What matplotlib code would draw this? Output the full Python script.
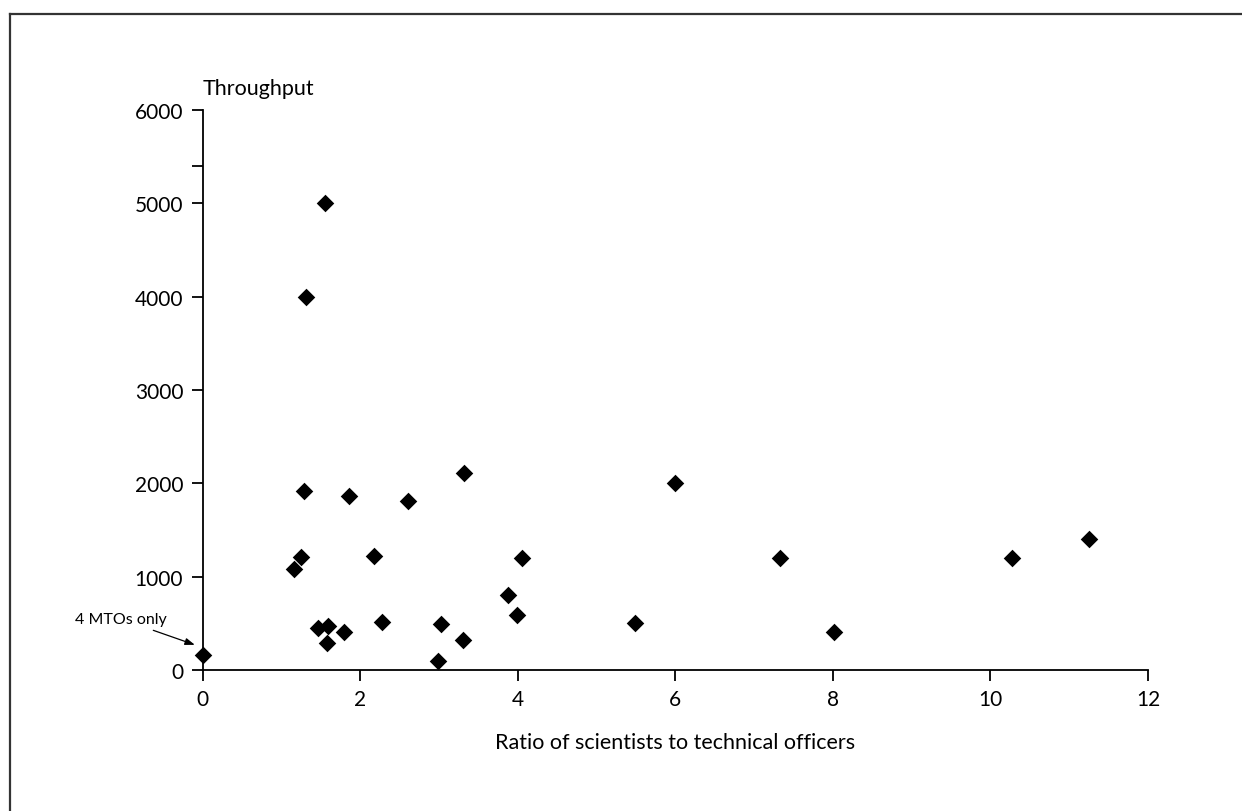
import matplotlib
matplotlib.use("Agg")
import matplotlib.pyplot as plt
from matplotlib.lines import Line2D

plt.rcParams["font.family"] = ["Lato", "DejaVu Sans"]

# ratio of scientists to technical officers vs throughput, one point per lab
ratio = [0, 1.16, 1.25, 1.29, 1.31, 1.55, 1.47, 1.59, 1.58, 1.80,
         1.86, 2.18, 2.27, 2.61, 2.99, 3.03, 3.31, 3.32, 3.88, 3.99,
         4.05, 5.49, 6.0, 7.33, 8.01, 10.28, 11.25]
throughput = [160, 1080, 1215, 1915, 4000, 5000, 455, 475, 295, 410,
              1860, 1220, 510, 1810, 100, 490, 320, 2110, 800, 590,
              1205, 505, 2000, 1200, 405, 1205, 1400]

x_ticks = [0, 2, 4, 6, 8, 10, 12]
y_ticks = [0, 1000, 2000, 3000, 4000, 5000, 6000]
y_extra_tick = 5400

fig = plt.figure(figsize=(12.42, 8.12), dpi=100)
ax = fig.add_axes([0.1632, 0.1736, 0.7611, 0.6897])

ax.scatter(ratio, throughput, marker="D", s=80, color="black",
           linewidths=0, clip_on=False, zorder=3)

ax.set_xlim(0, 12)
ax.set_ylim(0, 6000)
ax.set_xticks(x_ticks)
ax.set_yticks(y_ticks + [y_extra_tick])
ax.set_yticklabels([str(v) for v in y_ticks] + [""])

for side in ["top", "right"]:
    ax.spines[side].set_visible(False)
for side in ["left", "bottom"]:
    ax.spines[side].set_linewidth(1.3)
    ax.spines[side].set_color("black")

ax.tick_params(direction="out", length=8, width=1.3, labelsize=15,
               pad=6, colors="black")

ax.set_xlabel("Ratio of scientists to technical officers",
              fontsize=15.5, labelpad=16)
ax.text(0, 1.022, "Throughput", transform=ax.transAxes,
        ha="left", va="bottom", fontsize=15.5)

ax.annotate("4 MTOs only", xy=(-0.1, 270), xytext=(-0.45, 545),
            ha="right", va="center", fontsize=11.5,
            annotation_clip=False,
            arrowprops=dict(arrowstyle="-|>,head_length=0.5,head_width=0.18",
                            color="black", lw=0.9, shrinkA=3, shrinkB=0))

# frame lines along the top and left edge of the page
fig.add_artist(Line2D([9.5 / 1242, 9.5 / 1242], [0, 1 - 14.5 / 812],
                      transform=fig.transFigure, color="#333333", lw=1.6))
fig.add_artist(Line2D([9.5 / 1242, 1], [1 - 14.5 / 812, 1 - 14.5 / 812],
                      transform=fig.transFigure, color="#333333", lw=1.6))

fig.savefig("out.png", dpi=100)
